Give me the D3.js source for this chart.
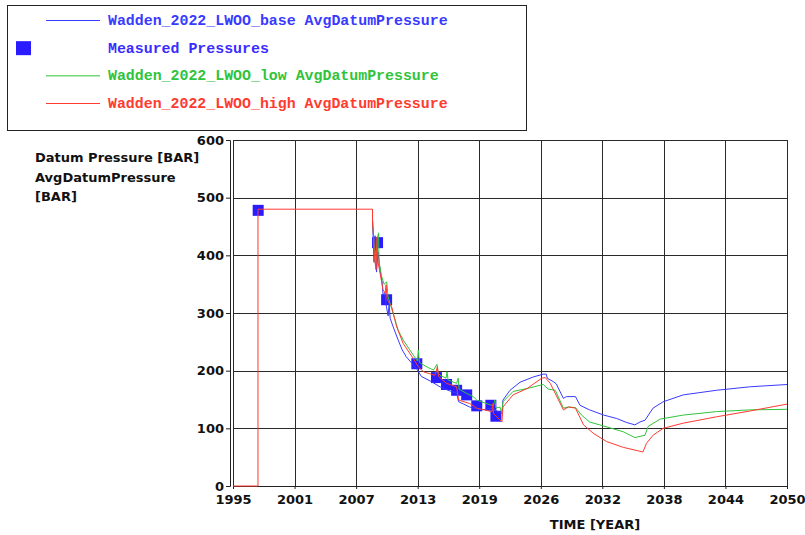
<!DOCTYPE html>
<html>
<head>
<meta charset="utf-8">
<script src="https://cdn.jsdelivr.net/npm/d3@7"></script>
<style>
  html, body { margin: 0; padding: 0; background: #fff; }
  svg { display: block; }
</style>
</head>
<body>
<svg id="chart" width="805" height="535"></svg>
<script>
// ---- data -------------------------------------------------------------
// Shared history (all three cases follow it until production starts)
const historyYears  = [1995, 1997.48, 1997.48, 2008.85];
const historyValues = [0, 0, 480, 480];

// Wadden_2022_LWOO_base AvgDatumPressure
const baseYears = [2008.85, 2009.0, 2009.1, 2009.25, 2009.4, 2009.6, 2009.8, 2009.9, 2010.1, 2010.2,
  2010.4, 2010.5, 2010.6, 2010.9, 2011.4, 2011.8, 2012.2, 2012.8, 2013.2, 2013.7, 2014.7, 2015.55,
  2016.35, 2017.2, 2017.4, 2017.9, 2018.5, 2019.5, 2020.1, 2020.8, 2021.2, 2021.7, 2021.8, 2022.5,
  2023.5, 2024.8, 2025.8, 2026.1, 2026.2, 2026.8, 2027.1, 2027.8, 2028.1, 2029.0, 2029.45, 2030.4,
  2031.8, 2033.1, 2034.1, 2034.9, 2035.4, 2035.9, 2036.7, 2037.7, 2039.7, 2043.0, 2046.3, 2050];
const baseValues = [463, 388, 434, 371, 406, 375, 354, 331, 336, 314,
  295, 317, 291, 276, 253, 236, 224, 212, 204, 190, 181, 172,
  166, 161, 146, 142, 137, 132, 133, 135, 130, 126, 149, 166,
  180, 189, 194, 194, 187, 181, 177, 152, 155, 155, 140, 132,
  123, 117, 110, 106, 111, 114, 135, 146, 158, 166, 172, 176];

// Wadden_2022_LWOO_low AvgDatumPressure
const lowYears = [2008.85, 2009.0, 2009.15, 2009.3, 2009.45, 2009.5, 2009.76, 2010.0, 2010.26, 2010.35,
  2010.4, 2010.9, 2011.4, 2011.9, 2012.9, 2013.3, 2013.4, 2013.5, 2013.6, 2014.3, 2014.9, 2015.25,
  2015.35, 2015.55, 2016.15, 2016.25, 2016.35, 2017.2, 2017.35, 2017.45, 2018.15, 2018.85, 2019.2,
  2020.0, 2020.85, 2021.0, 2021.1, 2021.5, 2021.7, 2021.8, 2022.8, 2024.2, 2025.8, 2026.3, 2027.0,
  2027.8, 2028.3, 2029.0, 2029.6, 2030.4, 2031.4, 2032.4, 2033.75, 2034.9, 2035.9, 2036.2, 2037.4,
  2039.7, 2043.0, 2046.3, 2050];
const lowValues = [463, 418, 383, 427, 439, 388, 363, 350, 354, 336,
  328, 299, 270, 253, 227, 217, 236, 215, 213, 206, 201, 211,
  196, 192, 187, 198, 184, 178, 187, 168, 161, 155, 149,
  144, 139, 149, 135, 137, 126, 146, 164, 169, 176, 168, 166,
  135, 137, 136, 123, 111, 106, 101, 94, 84, 88, 103, 116,
  123, 129, 132, 133];

// Wadden_2022_LWOO_high AvgDatumPressure
const highYears = [2008.85, 2008.95, 2009.05, 2009.2, 2009.3, 2009.4, 2009.6, 2009.9, 2010.1, 2010.2,
  2010.3, 2010.75, 2011.25, 2011.9, 2012.9, 2013.4, 2013.9, 2015.05, 2015.3, 2015.4, 2016.2, 2017.2,
  2017.4, 2018.5, 2019.2, 2020.7, 2020.8, 2020.85, 2021.7, 2021.8, 2022.8, 2024.2, 2025.65, 2026.0,
  2026.5, 2027.8, 2028.3, 2029.0, 2029.8, 2030.8, 2032.1, 2033.75, 2035.7, 2036.05, 2036.7, 2037.7,
  2039.7, 2043.0, 2046.3, 2050];
const highValues = [456, 435, 395, 375, 432, 388, 369, 340, 335, 349,
  323, 311, 276, 247, 221, 207, 198, 192, 207, 190, 178, 172,
  149, 143, 135, 129, 143, 126, 111, 137, 158, 169, 187, 188,
  178, 132, 137, 135, 106, 91, 77, 67, 59, 74, 88, 100,
  109, 120, 130, 142];

// Measured Pressures
const measuredYears  = [1997.5, 2009.35, 2010.25, 2013.25, 2015.2, 2016.2, 2017.2, 2018.2, 2019.2, 2020.6, 2021.1];
const measuredValues = [478, 422, 323, 212, 188, 176, 166, 158, 139, 140, 121];

// Axis ticks
const xTickLabels = ["1995", "2001", "2007", "2013", "2019", "2026", "2032", "2038", "2044", "2050"];
const yTickValues = [0, 100, 200, 300, 400, 500, 600];

// Legend entries
const legendLabels = [
  "Wadden_2022_LWOO_base AvgDatumPressure",
  "Measured Pressures",
  "Wadden_2022_LWOO_low AvgDatumPressure",
  "Wadden_2022_LWOO_high AvgDatumPressure"
];

// ---- styles -----------------------------------------------------------
const COLORS = { base: "#3a3aff", low: "#2fc43a", high: "#ff3b30", measured: "#2a1cff" };
const axisFont = "'DejaVu Sans', Verdana, sans-serif";
const monoFont = "'Liberation Mono', 'Courier New', monospace";

const svg = d3.select("#chart");

const x = d3.scaleLinear().domain([1995, 2050]).range([233, 787]);
const y = d3.scaleLinear().domain([0, 600]).range([486, 140]);
const xTickValues = xTickLabels.map((_, i) => 1995 + i * 55 / 9);

// ---- legend box -------------------------------------------------------
const legend = svg.append("g");
legend.append("rect")
  .attr("x", 7.5).attr("y", 5.5).attr("width", 519).attr("height", 125)
  .attr("fill", "#fff").attr("stroke", "#222").attr("stroke-width", 1);

const legendKinds = ["base", "measured", "low", "high"];
const legendY = d3.scaleLinear().domain([0, 3]).range([20.5, 103.5]);
legendKinds.forEach((k, i) => {
  const yy = legendY(i);
  if (k === "measured") {
    legend.append("rect").attr("x", 16).attr("y", yy - 7).attr("width", 15).attr("height", 14)
      .attr("fill", COLORS.measured);
  } else {
    legend.append("line").attr("x1", 46).attr("x2", 100).attr("y1", yy).attr("y2", yy)
      .attr("stroke", COLORS[k]).attr("stroke-width", 1);
  }
  legend.append("text")
    .attr("x", 108).attr("y", yy + 4.5)
    .attr("font-family", monoFont).attr("font-weight", "bold").attr("font-size", "14.9px")
    .attr("fill", k === "measured" ? "#3a2cff" : COLORS[k])
    .text(legendLabels[i]);
});

// ---- grid & frame -----------------------------------------------------
const grid = svg.append("g").attr("shape-rendering", "crispEdges");
grid.selectAll("line.vx").data(xTickValues).join("line")
  .attr("x1", d => Math.round(x(d)) + 0.5).attr("x2", d => Math.round(x(d)) + 0.5)
  .attr("y1", y(600)).attr("y2", y(0))
  .attr("stroke", "#2a2a2a").attr("stroke-width", 1);
grid.selectAll("line.hy").data(yTickValues).join("line")
  .attr("x1", x(1995)).attr("x2", x(2050))
  .attr("y1", d => Math.round(y(d)) + 0.5).attr("y2", d => Math.round(y(d)) + 0.5)
  .attr("stroke", "#2a2a2a").attr("stroke-width", 1);

// ---- axes -------------------------------------------------------------
const yAxis = d3.axisLeft(y).tickValues(yTickValues).tickSize(4).tickPadding(2).tickFormat(d3.format("d"));
svg.append("g").attr("transform", "translate(230,0)").call(yAxis)
  .call(g => g.select(".domain").attr("stroke", "#222"))
  .call(g => g.selectAll(".tick line").attr("stroke", "#222"))
  .call(g => g.selectAll("text").attr("font-family", axisFont).attr("font-weight", "bold")
    .attr("font-size", "13px").attr("fill", "#111"));

const xAxis = d3.axisBottom(x).tickValues(xTickValues).tickSize(3).tickPadding(6)
  .tickFormat((d, i) => xTickLabels[i]);
svg.append("g").attr("transform", "translate(0,486)").call(xAxis)
  .call(g => g.select(".domain").attr("stroke", "#222"))
  .call(g => g.selectAll(".tick line").attr("stroke", "#222"))
  .call(g => g.selectAll("text").attr("font-family", axisFont).attr("font-weight", "bold")
    .attr("font-size", "13px").attr("fill", "#111"));

// axis titles
const yTitle = ["Datum Pressure [BAR]", "AvgDatumPressure", "[BAR]"];
svg.append("g").selectAll("text").data(yTitle).join("text")
  .attr("x", 35).attr("y", (d, i) => 162 + i * 19.5)
  .attr("font-family", axisFont).attr("font-weight", "bold").attr("font-size", "13px")
  .attr("fill", "#111").text(d => d);
svg.append("text").attr("x", 595).attr("y", 529).attr("text-anchor", "middle")
  .attr("font-family", axisFont).attr("font-weight", "bold").attr("font-size", "13px")
  .attr("fill", "#111").text("TIME [YEAR]");

// ---- marks ------------------------------------------------------------
const plot = svg.append("g");

// measured squares
const measured = measuredYears.map((yr, i) => ({ yr, v: measuredValues[i] }));
plot.selectAll("rect.meas").data(measured).join("rect")
  .attr("x", d => x(d.yr) - 5.5).attr("y", d => y(d.v) - 5.5)
  .attr("width", 11).attr("height", 11)
  .attr("fill", COLORS.measured);

const line = d3.line().x(d => x(d[0])).y(d => y(d[1]));
const hist = historyYears.map((yr, i) => [yr, historyValues[i]]);
const last = hist[hist.length - 1];
// base and low branch off the shared history at its last point; high carries the full history
const pts = (yrs, vals) => yrs.map((yr, i) => [yr, vals[i]]);
const seriesData = [
  ["base", [last].concat(pts(baseYears, baseValues))],
  ["low",  [last].concat(pts(lowYears, lowValues))],
  ["high", hist.concat(pts(highYears, highValues))]
];
seriesData.forEach(([k, d]) => {
  plot.append("path").datum(d)
    .attr("d", line).attr("fill", "none")
    .attr("stroke", COLORS[k]).attr("stroke-width", 1)
    .attr("stroke-linejoin", "round");
});
</script>
</body>
</html>
